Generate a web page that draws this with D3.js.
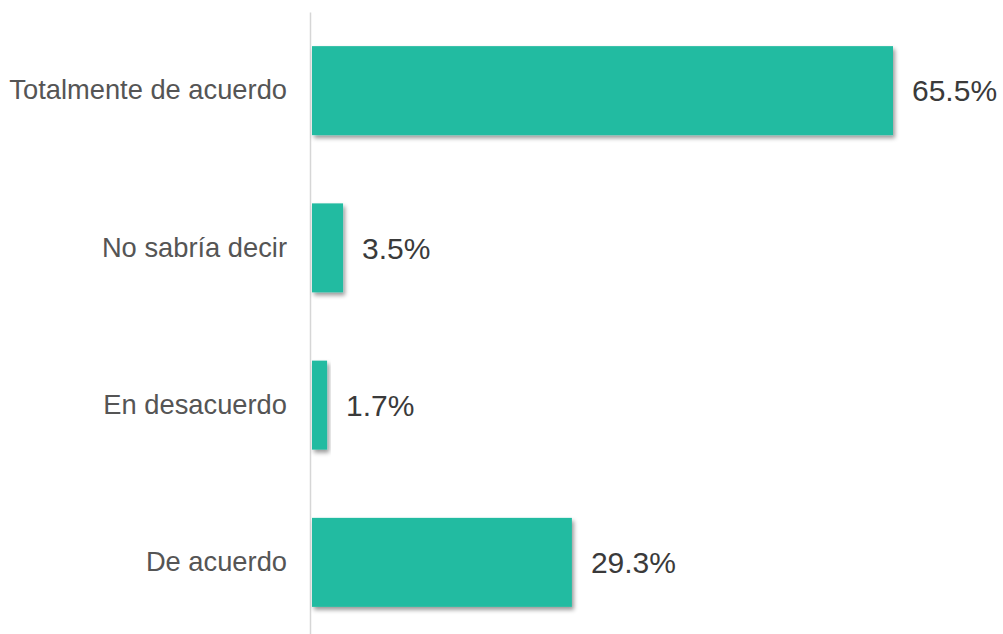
<!DOCTYPE html>
<html><head><meta charset="utf-8">
<script src="https://cdn.jsdelivr.net/npm/d3@7"></script>
<style>
html,body{margin:0;padding:0;background:#fff;}
svg{display:block;}
</style></head>
<body>
<script>
const categories = ["Totalmente de acuerdo", "No sabría decir", "En desacuerdo", "De acuerdo"];
const values = [65.5, 3.5, 1.7, 29.3];
const valueLabels = ["65.5%", "3.5%", "1.7%", "29.3%"];

const W = 1003, H = 634;
const svg = d3.select("body").append("svg").attr("width", W).attr("height", H);

const defs = svg.append("defs");
const f = defs.append("filter").attr("id","shadow").attr("x","-10%").attr("y","-10%").attr("width","130%").attr("height","130%");
f.append("feDropShadow").attr("dx",2).attr("dy",3).attr("stdDeviation",2).attr("flood-color","#000").attr("flood-opacity",0.4);

const x = d3.scaleLinear().domain([0, 65.5]).range([312, 893]);
const y = d3.scaleBand().domain(categories).range([12, 641]).paddingInner(0.434).paddingOuter(0.217);

const axis = svg.append("g").attr("transform","translate(310,0)")
  .call(d3.axisLeft(y).tickSize(0).tickPadding(23));
axis.select(".domain").attr("stroke","#d6d6d6").attr("stroke-width",1.5);
axis.selectAll(".tick text")
  .attr("font-family","'Liberation Sans', Arial, Helvetica, sans-serif")
  .attr("font-size",27.3).attr("fill","#555");

svg.append("g").selectAll("rect").data(categories).join("rect")
  .attr("x", x(0))
  .attr("y", d => y(d))
  .attr("width", (d,i) => x(values[i]) - x(0))
  .attr("height", y.bandwidth())
  .attr("fill", "#23bba1")
  .attr("filter","url(#shadow)");

svg.append("g").selectAll("text").data(categories).join("text")
  .attr("x", (d,i) => x(values[i]) + 19)
  .attr("y", d => y(d) + y.bandwidth()/2)
  .attr("dy","0.36em")
  .attr("font-family","'Liberation Sans', Arial, Helvetica, sans-serif")
  .attr("font-size",30).attr("fill","#3a3a3a")
  .text((d,i) => valueLabels[i]);
</script>
</body></html>
